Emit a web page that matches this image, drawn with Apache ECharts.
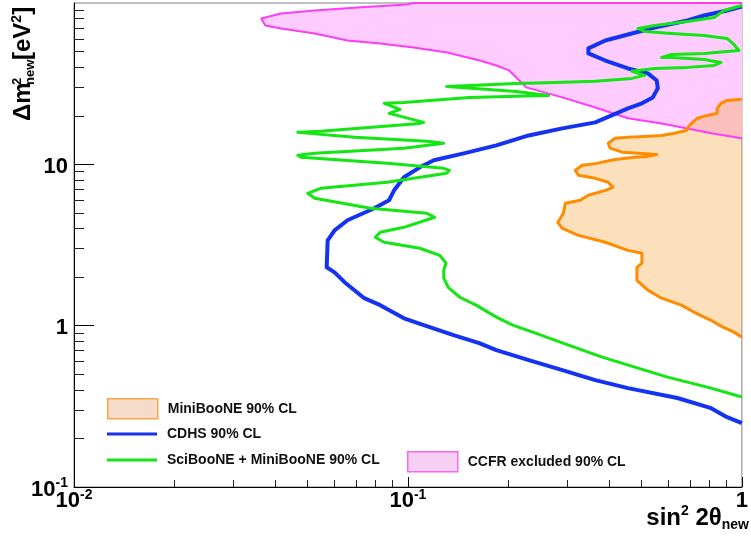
<!DOCTYPE html>
<html><head><meta charset="utf-8">
<script src="https://cdn.jsdelivr.net/npm/echarts@6/dist/echarts.min.js"></script>
<style>html,body{margin:0;padding:0;background:#fff}#c{width:751px;height:543px}</style>
</head><body><div id="c"></div>
<script>
// ---------- axis ticks ----------
const xTicks = [0.01, 0.1, 1];
const yTicks = [0.1, 1, 10];
const xMinor = [0.02,0.03,0.04,0.05,0.06,0.07,0.08,0.09,0.2,0.3,0.4,0.5,0.6,0.7,0.8,0.9];
const yMinor = [0.2,0.3,0.4,0.5,0.6,0.7,0.8,0.9,2,3,4,5,6,7,8,9,20,30,40,50,60,70,80,90];

// ---------- CCFR excluded region boundary ----------
const ccfrX = [1, 0.104, 0.099, 0.0706, 0.0526, 0.0417, 0.0364, 0.0374, 0.0417, 0.0526, 0.0659, 0.0826, 0.104, 0.131, 0.164, 0.184, 0.201, 0.226, 0.290, 0.364, 0.456, 0.575, 0.687, 0.809, 1];
const ccfrY = [100, 100, 97.9, 93.8, 89.9, 86.1, 80.2, 72.6, 69.5, 64.7, 58.6, 56.1, 53.0, 49.4, 44.0, 41.0, 38.2, 30.0, 26.0, 22.5, 19.3, 17.9, 16.7, 15.6, 14.5];

// ---------- MiniBooNE 90% CL boundary ----------
const mbX = [1, 0.903, 0.866, 0.843, 0.843, 0.787, 0.735, 0.696, 0.682, 0.628, 0.575, 0.512, 0.456, 0.417, 0.398, 0.403, 0.438, 0.488, 0.556, 0.523, 0.478, 0.417, 0.364, 0.333, 0.317, 0.324, 0.364, 0.398, 0.411, 0.390, 0.347, 0.328, 0.296, 0.292, 0.281, 0.290, 0.324, 0.390, 0.456, 0.502, 0.502, 0.485, 0.485, 0.523, 0.575, 0.659, 0.720, 0.809, 0.866, 0.947, 1];
const mbY = [25.3, 24.9, 23.9, 22.2, 20.7, 20.1, 19.3, 17.4, 16.2, 15.6, 15.1, 14.9, 14.7, 14.5, 13.5, 12.6, 11.9, 11.7, 11.5, 11.2, 11.05, 10.7, 10.1, 9.86, 9.18, 8.55, 8.19, 7.74, 7.20, 6.90, 6.43, 5.99, 5.74, 4.97, 4.37, 4.01, 3.63, 3.29, 2.93, 2.81, 2.44, 2.30, 1.91, 1.66, 1.48, 1.34, 1.21, 1.08, 0.993, 0.912, 0.849];

// ---------- CDHS 90% CL ----------
const cdhsX = [1, 0.903, 0.771, 0.687, 0.548, 0.468, 0.390, 0.347, 0.347, 0.390, 0.456, 0.523, 0.556, 0.560, 0.541, 0.502, 0.456, 0.364, 0.290, 0.230, 0.184, 0.147, 0.1195, 0.1085, 0.0973, 0.0909, 0.0878, 0.0793, 0.0659, 0.0603, 0.0575, 0.0571, 0.0603, 0.0646, 0.0740, 0.0826, 0.0973, 0.1162, 0.1369, 0.1635, 0.184, 0.230, 0.290, 0.364, 0.456, 0.641, 0.809, 0.903, 1];
const cdhsY = [95.1, 89.9, 83.7, 77.9, 70.5, 64.7, 58.6, 52.3, 48.7, 44.0, 39.3, 36.6, 33.1, 29.6, 26.0, 23.9, 22.2, 18.2, 16.7, 15.1, 13.1, 11.7, 10.6, 9.58, 8.31, 6.90, 5.99, 5.34, 4.50, 3.90, 3.38, 2.30, 2.14, 1.86, 1.48, 1.34, 1.11, 0.979, 0.873, 0.779, 0.705, 0.611, 0.530, 0.460, 0.410, 0.356, 0.308, 0.271, 0.249];

// ---------- SciBooNE + MiniBooNE 90% CL ----------
const sbX = [1, 0.809, 0.599, 0.478, 0.382, 0.3025, 0.241, 0.206, 0.184, 0.160, 0.143, 0.132, 0.128, 0.128, 0.130, 0.1245, 0.1085, 0.0849, 0.0798, 0.0826, 0.0973, 0.1203, 0.1139, 0.0771, 0.0526, 0.0501, 0.0548, 0.0866, 0.1306, 0.1332, 0.1279, 0.0866, 0.0478, 0.0468, 0.0526, 0.0973, 0.1279, 0.1139, 0.0692, 0.0468, 0.0548, 0.1085, 0.1115, 0.0928, 0.0878, 0.0947, 0.0849, 0.0973, 0.1528, 0.2106, 0.2638, 0.2106, 0.1306, 0.2106, 0.2768, 0.364, 0.468, 0.512, 0.468, 0.548, 0.687, 0.826, 0.866, 0.771, 0.616, 0.575, 0.616, 0.771, 0.903, 0.980, 0.947, 0.903, 0.771, 0.616, 0.512, 0.488, 0.548, 0.687, 0.826, 0.884, 1];
const sbY = [0.361, 0.410, 0.480, 0.553, 0.638, 0.757, 0.899, 1.007, 1.129, 1.34, 1.50, 1.73, 1.97, 2.21, 2.44, 2.73, 3.02, 3.29, 3.53, 3.79, 4.07, 4.70, 4.97, 5.34, 6.16, 6.61, 7.10, 7.74, 8.80, 9.18, 9.45, 10.14, 11.05, 11.37, 11.70, 12.56, 13.49, 13.88, 14.70, 15.78, 16.01, 17.94, 18.2, 20.1, 20.7, 21.9, 23.9, 24.2, 26.0, 26.4, 26.7, 28.3, 30.4, 31.7, 32.2, 32.7, 34.1, 35.6, 37.7, 39.3, 39.9, 41.0, 42.8, 44.7, 46.0, 46.0, 48.0, 48.7, 50.1, 50.8, 55.3, 60.3, 62.9, 64.7, 66.6, 69.5, 72.6, 76.8, 81.3, 89.9, 96.5];

const names = {
  mb: 'MiniBooNE 90% CL',
  cdhs: 'CDHS 90% CL',
  sb: 'SciBooNE + MiniBooNE 90% CL',
  ccfr: 'CCFR excluded 90% CL'
};

// ---------- chart ----------
const FONT = '"Liberation Sans", Arial, Helvetica, sans-serif';
const pair = (xs, ys) => xs.map((x, i) => [x, ys[i]]);

function polygonSeries(name, xs, ys, fill, z) {
  return {
    name: name, type: 'custom', coordinateSystem: 'cartesian2d', z: z, silent: true,
    data: [[xs[0], ys[0]]],
    renderItem: function (params, api) {
      return {
        type: 'polygon',
        shape: { points: xs.map((x, i) => api.coord([x, ys[i]])) },
        style: { fill: fill }
      };
    }
  };
}
function lineSeries(name, xs, ys, color, width, z) {
  return {
    name: name, type: 'line', z: z, silent: true, symbol: 'none', showSymbol: false,
    clip: true, data: pair(xs, ys),
    lineStyle: { color: color, width: width, join: 'round' },
    itemStyle: { color: color }
  };
}

function decadeLabel(v) {
  const e = Math.round(Math.log10(v));
  if (e === 0) return '{b|1}';
  if (e === 1) return '{b|10}';
  if (e === 2) return '';
  return '{b|10}{s|' + e + '}';
}
const labRich = {
  b: { fontSize: 22, fontWeight: 'bold', fontFamily: FONT, color: '#000', lineHeight: 26 },
  s: { fontSize: 14, fontWeight: 'bold', fontFamily: FONT, color: '#000', lineHeight: 10, verticalAlign: 'top' }
};

const legBase = {
  orient: 'vertical', selectedMode: false, itemWidth: 50, icon: 'rect', padding: 0, itemGap: 0,
  textStyle: { fontFamily: FONT, fontSize: 14, fontWeight: 'bold', color: '#111', lineHeight: 16, padding: [0, 0, 0, 5] }
};

const option = {
  animation: false,
  backgroundColor: '#fff',
  grid: { left: 74, right: 3, top: 3, bottom: 56, show: true, borderColor: '#808080', borderWidth: 1, backgroundColor: 'transparent' },
  xAxis: [
    {
      type: 'log', logBase: 10, min: 0.01, max: 1, position: 'bottom',
      axisLine: { show: true, onZero: false, lineStyle: { color: '#000', width: 1 } },
      axisTick: { show: true, inside: true, length: 10, lineStyle: { color: '#000' }, customValues: xTicks },
      axisLabel: { show: true, margin: 1, formatter: decadeLabel, rich: labRich, customValues: xTicks },
      splitLine: { show: false }
    },
    {
      type: 'log', logBase: 10, min: 0.01, max: 1, position: 'bottom',
      axisLine: { show: false },
      axisTick: { show: true, inside: true, length: 7, lineStyle: { color: '#222' }, customValues: xMinor },
      axisLabel: { show: false },
      splitLine: { show: false }
    }
  ],
  yAxis: [
    {
      type: 'log', logBase: 10, min: 0.1, max: 100, position: 'left',
      axisLine: { show: true, onZero: false, lineStyle: { color: '#000', width: 1 } },
      axisTick: { show: true, inside: true, length: 20, lineStyle: { color: '#000' }, customValues: yTicks },
      axisLabel: { show: true, margin: 6, formatter: decadeLabel, rich: labRich, customValues: yTicks, padding: [5, 0, 0, 0] },
      splitLine: { show: false }
    },
    {
      type: 'log', logBase: 10, min: 0.1, max: 100, position: 'left',
      axisLine: { show: false },
      axisTick: { show: true, inside: true, length: 10, lineStyle: { color: '#222' }, customValues: yMinor },
      axisLabel: { show: false },
      splitLine: { show: false }
    }
  ],
  legend: [
    Object.assign({}, legBase, { left: 107, top: 398, itemHeight: 20, data: [names.mb],
      itemStyle: { color: '#f6dcc8', borderColor: '#f7a64a', borderWidth: 1.5 } }),
    Object.assign({}, legBase, { left: 107, top: 426, itemHeight: 3, data: [names.cdhs],
      itemStyle: { color: '#1433f0', borderWidth: 0 } }),
    Object.assign({}, legBase, { left: 107, top: 452, itemHeight: 3, data: [names.sb],
      itemStyle: { color: '#14e614', borderWidth: 0 } }),
    Object.assign({}, legBase, { left: 407, top: 451, itemHeight: 20, data: [names.ccfr],
      itemStyle: { color: '#f5d0f2', borderColor: '#ff66ee', borderWidth: 1.5 } })
  ],
  series: [
    polygonSeries(names.ccfr, ccfrX, ccfrY, '#ffccff', 1),
    polygonSeries(names.mb, mbX, mbY, 'rgba(247,171,74,0.37)', 2),
    lineSeries('CCFR border', ccfrX, ccfrY, '#ff3cf5', 2, 3),
    lineSeries('MiniBooNE border', mbX, mbY, '#ff8c00', 3, 4),
    lineSeries(names.cdhs, cdhsX, cdhsY, '#1433f0', 4, 5),
    lineSeries(names.sb, sbX, sbY, '#14e614', 3, 6)
  ],
  graphic: [
    {
      type: 'group', x: 23, y: 121, rotation: Math.PI / 2, silent: true,
      children: [
        { type: 'text', x: 0, y: 0, style: { text: 'Δm', fontSize: 24, fontWeight: 'bold', fontFamily: FONT, fill: '#000', align: 'left', verticalAlign: 'middle' } },
        { type: 'text', x: 36, y: -6, style: { text: '2', fontSize: 13, fontWeight: 'bold', fontFamily: FONT, fill: '#000', align: 'left', verticalAlign: 'middle' } },
        { type: 'text', x: 36, y: 7, style: { text: 'new', fontSize: 13, fontWeight: 'bold', fontFamily: FONT, fill: '#000', align: 'left', verticalAlign: 'middle' } },
        { type: 'text', x: 61, y: 0, style: {
            text: '{a|[eV}{s|2}{a|]}', align: 'left', verticalAlign: 'middle',
            rich: {
              a: { fontSize: 24, fontWeight: 'bold', fontFamily: FONT, fill: '#000', lineHeight: 26 },
              s: { fontSize: 14, fontWeight: 'bold', fontFamily: FONT, fill: '#000', lineHeight: 10, verticalAlign: 'top' }
            } } }
      ]
    },
    {
      type: 'text', x: 749, y: 504, silent: true,
      style: {
        text: '{a|sin}{s|2}{a| 2θ}{u|new}', align: 'right', verticalAlign: 'top',
        rich: {
          a: { fontSize: 24, fontWeight: 'bold', fontFamily: FONT, fill: '#000', lineHeight: 28 },
          s: { fontSize: 14, fontWeight: 'bold', fontFamily: FONT, fill: '#000', lineHeight: 16, verticalAlign: 'top' },
          u: { fontSize: 14, fontWeight: 'bold', fontFamily: FONT, fill: '#000', lineHeight: 8, verticalAlign: 'bottom' }
        }
      }
    }
  ]
};

const chart = echarts.init(document.getElementById('c'), null, { renderer: 'canvas' });
chart.setOption(option);
</script>
</body></html>
